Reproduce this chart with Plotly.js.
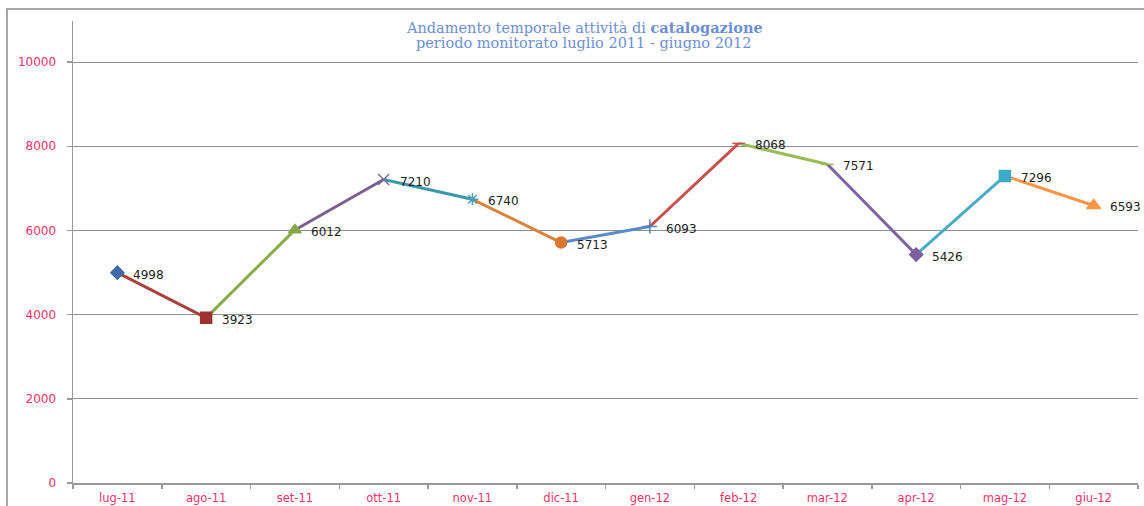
<!DOCTYPE html>
<html>
<head>
<meta charset="utf-8">
<script src="https://cdn.plot.ly/plotly-3.0.1.min.js"></script>
<style>html,body{margin:0;padding:0;background:#fff;}#chart{width:1144px;height:506px;}</style>
</head>
<body>
<div id="chart"></div>
<script>
// ---- data ----
var months = ["lug-11","ago-11","set-11","ott-11","nov-11","dic-11","gen-12","feb-12","mar-12","apr-12","mag-12","giu-12"];
var values = [4998, 3923, 6012, 7210, 6740, 5713, 6093, 8068, 7571, 5426, 7296, 6593];
var yTicks = [0, 2000, 4000, 6000, 8000, 10000];
var titleLine1 = "Andamento temporale attività di <b>catalogazione</b>";
var titleLine2 = "periodo monitorato luglio 2011 - giugno 2012";

// ---- styles (one per point, Excel "vary colours by point") ----
var markerSymbols = ["diamond","square","triangle-up","x-thin-open","asterisk-open","circle","cross-thin-open","line-ew-open","line-ew-open","diamond","square","triangle-up"];
var markerSizes = [10, 11, 11, 11, 10, 11, 10, 9, 9, 10, 11, 12];
var pointColors = ["#3f6aa6","#9b3330","#86a948","#7b6a9a","#45a0b8","#d9782e","#4f81bd","#c0504d","#9bbb59","#7d5fa0","#3ea9c8","#f79646"];
var segColors   = ["#3f6aa6","#a8423d","#8aab4a","#7a5f8f","#3a98a8","#d9823a","#5b8bc8","#c9504b","#9bbb59","#8064a2","#4bacc6","#f79646"];

var traces = [];
for (var i = 1; i < months.length; i++) {
  traces.push({
    type: "scatter", mode: "lines",
    x: [months[i-1], months[i]], y: [values[i-1], values[i]],
    line: {color: segColors[i], width: 3},
    hoverinfo: "skip", showlegend: false
  });
}
traces.push({
  type: "scatter", mode: "markers",
  x: months, y: values, opacity: 1,
  marker: {symbol: markerSymbols, size: markerSizes, color: pointColors, opacity: 1,
           line: {color: pointColors, width: 1.5}},
  showlegend: false
});

var annotations = months.map(function (m, i) {
  return {x: m, y: values[i], xref: "x", yref: "y", text: String(values[i]),
    showarrow: false, xanchor: "left", yanchor: "middle", xshift: 14, yshift: -2,
    font: {family: "DejaVu Sans", size: 12, color: "#222"}};
});
annotations.push({
  xref: "paper", yref: "paper", x: 0.48, y: (483 - 27) / 462, xanchor: "center", yanchor: "middle",
  text: titleLine1, showarrow: false,
  font: {family: "DejaVu Serif", size: 14.5, color: "#6d8fd3"}
});
annotations.push({
  xref: "paper", yref: "paper", x: 0.48, y: (483 - 43) / 462, xanchor: "center", yanchor: "middle",
  text: titleLine2, showarrow: false,
  font: {family: "DejaVu Serif", size: 14.5, color: "#6d8fd3"}
});

var layout = {
  width: 1144, height: 506,
  margin: {l: 73, r: 6, t: 21, b: 23},
  paper_bgcolor: "#fff", plot_bgcolor: "#fff",
  showlegend: false,
  xaxis: {
    type: "category", categoryorder: "array", categoryarray: months,
    range: [-0.5, months.length - 0.5],
    showgrid: false, zeroline: false,
    showline: true, linecolor: "#999", linewidth: 1.5,
    ticks: "outside", tickson: "boundaries", ticklen: 4, tickcolor: "#999", tickwidth: 1.5,
    tickfont: {family: "DejaVu Sans", size: 11.5, color: "#f0336a"},
    ticklabelstandoff: 4, fixedrange: true
  },
  yaxis: {
    range: [0, 10976], tickmode: "array", tickvals: yTicks, ticktext: yTicks.map(String),
    showgrid: true, gridcolor: "#8f8f8f", gridwidth: 1, zeroline: false,
    showline: true, linecolor: "#999", linewidth: 1.5,
    ticks: "outside", ticklen: 5, tickcolor: "#999", tickwidth: 1.5,
    tickfont: {family: "DejaVu Sans", size: 12, color: "#f0336a"},
    ticklabelstandoff: 8, fixedrange: true
  },
  annotations: annotations,
  shapes: [{
    type: "rect", xref: "paper", yref: "paper",
    x0: -0.062, x1: 1.02, y0: -0.2, y1: (483 - 9) / 462,
    line: {color: "#a6a6a6", width: 2}, fillcolor: "rgba(0,0,0,0)", layer: "above"
  }]
};

Plotly.newPlot("chart", traces, layout, {displayModeBar: false, staticPlot: true});
</script>
</body>
</html>
